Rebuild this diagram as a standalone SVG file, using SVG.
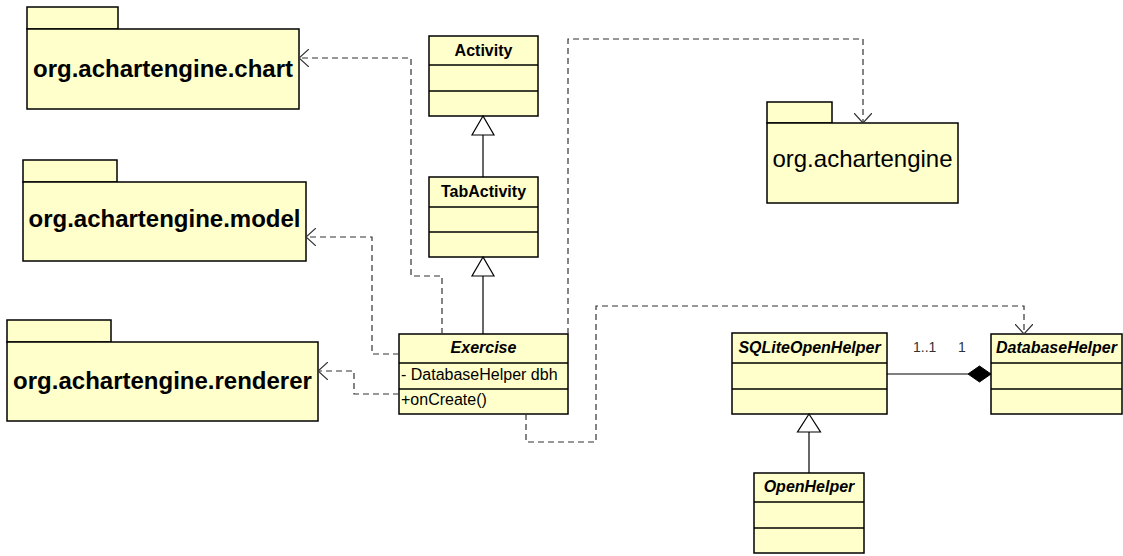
<svg xmlns="http://www.w3.org/2000/svg" width="1123" height="556" viewBox="0 0 1123 556">
<style>
.box{fill:#FFFFCC;stroke:#000;stroke-width:1.5}
.div{stroke:#000;stroke-width:1.5}
.pkg{font-family:"Liberation Sans",Arial,sans-serif;font-size:24px;font-weight:bold;fill:#000;text-anchor:middle}
.pkgn{font-family:"Liberation Sans",Arial,sans-serif;font-size:24px;fill:#000;text-anchor:middle}
.title{font-family:"Liberation Sans",Arial,sans-serif;font-size:16px;font-weight:bold;fill:#000;text-anchor:middle}
.it{font-style:italic}
.mem{font-family:"Liberation Sans",Arial,sans-serif;font-size:16px;fill:#000}
.lbl{font-family:"Liberation Sans",Arial,sans-serif;font-size:14px;fill:#333}
.dep{fill:none;stroke:#333;stroke-width:1.2;stroke-dasharray:6,4}
.solid{fill:none;stroke:#000;stroke-width:1.2}
.gen{fill:#fff;stroke:#000;stroke-width:1.2}
</style>
<defs>
<marker id="open" viewBox="0 0 10 18" refX="10" refY="9" markerWidth="10" markerHeight="18" markerUnits="userSpaceOnUse" orient="auto">
<path d="M0,0 L10,9 L0,18" fill="none" stroke="#333" stroke-width="1.2"/>
</marker>
</defs>
<rect width="1123" height="556" fill="#fff"/>

<g id="pkg-chart">
<rect class="box" x="27" y="7" width="91" height="22"/>
<rect class="box" x="27" y="29" width="272" height="80"/>
<text class="pkg" x="163" y="77">org.achartengine.chart</text>
</g>
<g id="pkg-model">
<rect class="box" x="23" y="160" width="94" height="22"/>
<rect class="box" x="23" y="182" width="283" height="79"/>
<text class="pkg" x="164.5" y="227">org.achartengine.model</text>
</g>
<g id="pkg-renderer">
<rect class="box" x="7" y="320" width="104" height="22"/>
<rect class="box" x="7" y="342" width="311" height="79"/>
<text class="pkg" x="162.5" y="389">org.achartengine.renderer</text>
</g>
<g id="pkg-achartengine">
<rect class="box" x="767" y="102" width="65" height="21"/>
<rect class="box" x="767" y="123" width="191" height="80"/>
<text class="pkgn" x="862.5" y="167">org.achartengine</text>
</g>

<g id="cls-activity">
<rect class="box" x="429" y="36" width="109" height="80"/>
<line class="div" x1="429" y1="65" x2="538" y2="65"/>
<line class="div" x1="429" y1="91" x2="538" y2="91"/>
<text class="title" x="483.5" y="56">Activity</text>
</g>
<g id="cls-tabactivity">
<rect class="box" x="429" y="177" width="109" height="80"/>
<line class="div" x1="429" y1="207" x2="538" y2="207"/>
<line class="div" x1="429" y1="232" x2="538" y2="232"/>
<text class="title" x="483.5" y="197">TabActivity</text>
</g>
<g id="cls-exercise">
<rect class="box" x="399" y="334" width="169" height="80"/>
<line class="div" x1="399" y1="363" x2="568" y2="363"/>
<line class="div" x1="399" y1="389" x2="568" y2="389"/>
<text class="title it" x="483.5" y="353">Exercise</text>
<text class="mem" x="401" y="380">- DatabaseHelper dbh</text>
<text class="mem" x="401" y="405">+onCreate()</text>
</g>
<g id="cls-sqliteopenhelper">
<rect class="box" x="732" y="333" width="155" height="81"/>
<line class="div" x1="732" y1="363" x2="887" y2="363"/>
<line class="div" x1="732" y1="389" x2="887" y2="389"/>
<text class="title it" x="809.5" y="353">SQLiteOpenHelper</text>
</g>
<g id="cls-databasehelper">
<rect class="box" x="991" y="334" width="131" height="80"/>
<line class="div" x1="991" y1="363" x2="1122" y2="363"/>
<line class="div" x1="991" y1="389" x2="1122" y2="389"/>
<text class="title it" x="1056.5" y="353">DatabaseHelper</text>
</g>
<g id="cls-openhelper">
<rect class="box" x="754" y="473" width="110" height="80"/>
<line class="div" x1="754" y1="502" x2="864" y2="502"/>
<line class="div" x1="754" y1="528" x2="864" y2="528"/>
<text class="title it" x="809" y="492">OpenHelper</text>
</g>

<g id="connectors">
<path class="dep" d="M442,334 V276 H411 V58 H299" marker-end="url(#open)"/>
<path class="dep" d="M399,354 H372 V237 H306" marker-end="url(#open)"/>
<path class="dep" d="M399,394 H354 V371 H318" marker-end="url(#open)"/>
<path class="dep" d="M568,334 V39 H863 V123" marker-end="url(#open)"/>
<path class="dep" d="M526,414 V442 H596 V306 H1024 V334" marker-end="url(#open)"/>

<line class="solid" x1="483" y1="135" x2="483" y2="177"/>
<polygon class="gen" points="483,116 472,135 494,135"/>
<line class="solid" x1="483" y1="276" x2="483" y2="334"/>
<polygon class="gen" points="483,257 472,276 494,276"/>
<line class="solid" x1="809" y1="432" x2="809" y2="473"/>
<polygon class="gen" points="809,414 797.5,432 820.5,432"/>

<line class="solid" x1="887" y1="374" x2="968" y2="374"/>
<polygon points="968,374 979.5,366 991,374 979.5,382" fill="#000" stroke="#000" stroke-width="1"/>
<text class="lbl" x="913" y="352">1..1</text>
<text class="lbl" x="958" y="352">1</text>
</g>
</svg>
